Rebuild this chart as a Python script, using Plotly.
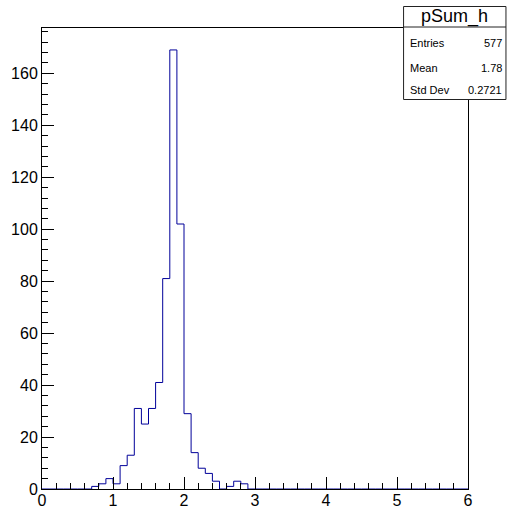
import numpy as np
import plotly.graph_objects as go

# pSum_h: 60 bins of width 0.1 on [0, 6]
bin_low = 0.0
bin_width = 0.1
n_bins = 60
counts = [0] * n_bins
filled = {
    7: 1, 8: 2, 9: 4, 10: 2, 11: 9, 12: 13, 13: 31, 14: 25, 15: 31,
    16: 41, 17: 81, 18: 169, 19: 102, 20: 29, 21: 14, 22: 8, 23: 6,
    24: 3, 25: 0, 26: 1, 27: 3, 28: 2,
}
for k, v in filled.items():
    counts[k] = v

stat_title = "pSum_h"
stat_labels = ["Entries", "Mean", "Std Dev"]
stat_values = ["577", "1.78", "0.2721"]

x_ticks = [0, 1, 2, 3, 4, 5, 6]
y_ticks = [0, 20, 40, 60, 80, 100, 120, 140, 160]

edges = bin_low + bin_width * np.arange(n_bins + 1)
step_x = list(edges)
step_y = list(counts) + [counts[-1]]

y_max = 1.05 * max(counts)

W, H = 508, 509
ml, mr, mt, mb = 41.5, 40, 28, 20
pw = W - ml - mr
ph = H - mt - mb

def px(xpix):
    return (xpix - ml) / pw

def py(ypix):
    return (H - mb - ypix) / ph

line_col = "#000099"
font_family = "Liberation Sans, Arial, Helvetica, sans-serif"

fig = go.Figure()
fig.add_trace(go.Scatter(
    x=step_x, y=step_y, mode="lines",
    line=dict(color=line_col, width=1, shape="hv"),
    hoverinfo="skip", showlegend=False,
))

axis_common = dict(
    showgrid=False, zeroline=False, showline=True, linecolor="black",
    linewidth=1, mirror=True, ticks="inside", tickcolor="black",
    automargin=False,
    tickfont=dict(family=font_family, size=16, color="black"),
)

fig.update_xaxes(
    range=[0, 6], tickvals=x_ticks, ticktext=[str(v) for v in x_ticks],
    ticklen=12, tickwidth=1, ticklabelstandoff=-3,
    minor=dict(dtick=0.2, ticklen=6, ticks="inside", tickcolor="black", showgrid=False),
    **axis_common,
)
fig.update_yaxes(
    range=[0, y_max], tickvals=y_ticks, ticktext=[str(v) for v in y_ticks],
    ticklen=12, tickwidth=1,
    minor=dict(dtick=4, ticklen=6, ticks="inside", tickcolor="black", showgrid=False),
    **axis_common,
)

# statistics box
bx0, bx1, by0, by1, bsep = 403.5, 506, 6.5, 99.5, 27
shapes = [
    dict(type="rect", xref="paper", yref="paper",
         x0=px(bx0), x1=px(bx1), y0=py(by1), y1=py(by0),
         line=dict(color="#222222", width=1), fillcolor="white", layer="above"),
    dict(type="line", xref="paper", yref="paper",
         x0=px(bx0), x1=px(bx1), y0=py(bsep), y1=py(bsep),
         line=dict(color="#222222", width=1), layer="above"),
]
annotations = [
    dict(text=stat_title, xref="paper", yref="paper",
         x=px((bx0 + bx1) / 2), y=py(16.5), xanchor="center", yanchor="middle",
         showarrow=False, font=dict(family=font_family, size=18, color="black")),
]
row_y = [43, 67.5, 90]
for lab, val, yy in zip(stat_labels, stat_values, row_y):
    annotations.append(dict(text=lab, xref="paper", yref="paper",
                            x=px(bx0 + 4), y=py(yy), xanchor="left", yanchor="middle",
                            showarrow=False,
                            font=dict(family=font_family, size=11, color="black")))
    annotations.append(dict(text=val, xref="paper", yref="paper",
                            x=px(bx1 - 2), y=py(yy), xanchor="right", yanchor="middle",
                            showarrow=False,
                            font=dict(family=font_family, size=11, color="black")))

fig.update_layout(
    width=W, height=H,
    margin=dict(l=ml, r=mr, t=mt, b=mb, pad=0, autoexpand=False),
    paper_bgcolor="white", plot_bgcolor="white",
    shapes=shapes, annotations=annotations,
)

fig.write_html("out.html")
